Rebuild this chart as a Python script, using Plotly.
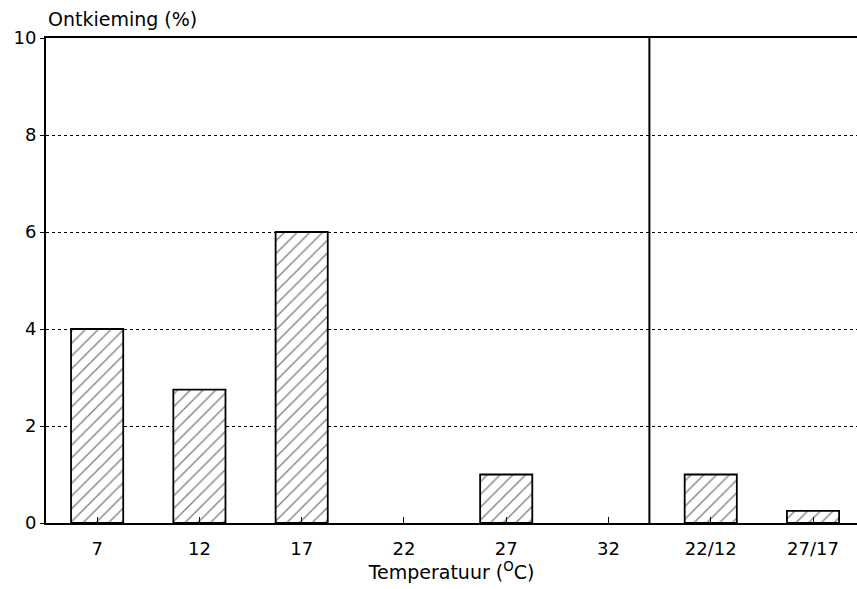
import plotly.graph_objects as go

# Germination percentage per temperature treatment
categories = ["7", "12", "17", "22", "27", "32", "22/12", "27/17"]
germination = [4.0, 2.75, 6.0, 0.0, 1.0, 0.0, 1.0, 0.25]
y_ticks = [0, 2, 4, 6, 8, 10]

positions = list(range(len(categories)))
FONT = "DejaVu Sans"

# empty treatments get no outline so nothing sits on the axis
outline_widths = [1.8 if v > 0 else 0 for v in germination]

fig = go.Figure()
fig.add_trace(go.Bar(
    x=positions,
    y=germination,
    width=0.51,
    marker=dict(
        color="white",
        line=dict(color="black", width=outline_widths),
        pattern=dict(shape="/", fgcolor="black", bgcolor="white", size=9, solidity=0.15),
    ),
    showlegend=False,
))

# separator between constant and alternating temperatures
fig.add_shape(type="line", xref="x", yref="y", x0=5.4, x1=5.4, y0=0, y1=10,
              line=dict(color="black", width=2))

fig.update_layout(
    width=857, height=589,
    margin=dict(l=46, r=0, t=38, b=66),
    paper_bgcolor="white", plot_bgcolor="white",
    font=dict(family=FONT, size=18, color="black"),
    xaxis=dict(
        range=[-0.5, 7.43],
        tickvals=positions, ticktext=categories,
        ticks="inside", ticklen=6, tickwidth=1.2, tickcolor="black",
        ticklabelstandoff=8,
        showline=True, linecolor="black", linewidth=2, mirror=True,
        showgrid=False, zeroline=False,
        title=dict(text="Temperatuur (<sup>O</sup>C)", font=dict(size=19), standoff=2),
        tickfont=dict(size=18),
    ),
    yaxis=dict(
        range=[0, 10],
        tickvals=y_ticks,
        ticks="outside", ticklen=4, tickwidth=1.2, tickcolor="black",
        showline=True, linecolor="black", linewidth=2,
        showgrid=True, gridcolor="black", griddash="dot", gridwidth=1.4,
        zeroline=False,
        tickfont=dict(size=18),
    ),
    annotations=[dict(
        text="Ontkieming (%)", xref="paper", yref="paper",
        x=0, y=1, xanchor="left", yanchor="bottom", yshift=6,
        showarrow=False, font=dict(size=19, family=FONT),
    )],
)

fig.write_html("out.html")
